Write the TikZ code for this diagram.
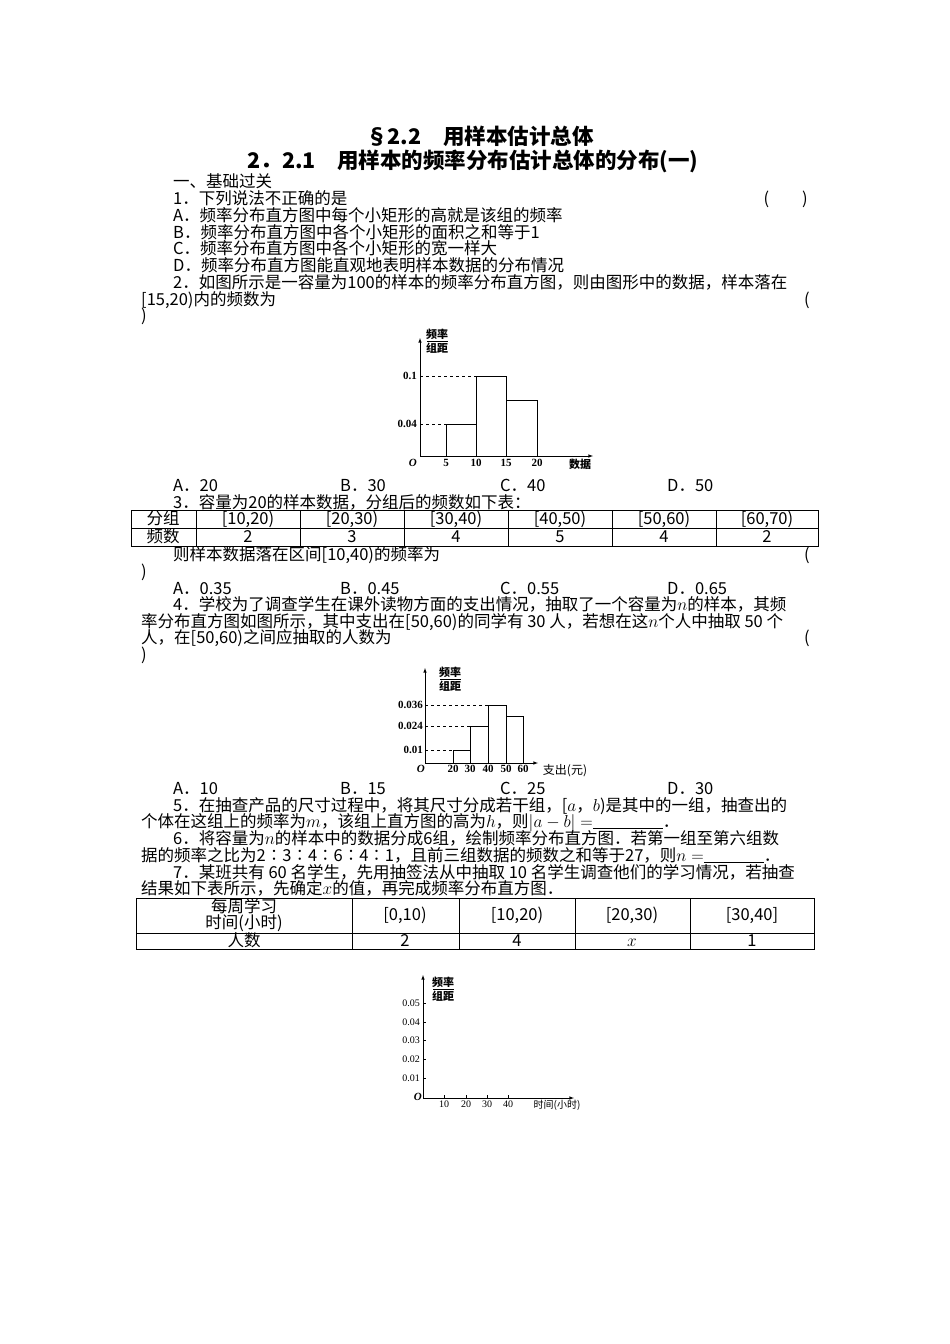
\documentclass[tikz,border=0pt]{standalone}
\usepackage{fontspec}
\setmainfont{Noto Sans CJK SC}
\newfontfamily\numf{Liberation Serif}
\begin{document}
\begin{tikzpicture}[x=1pt,y=-1pt,
  tx/.style={anchor=base west,inner sep=0pt,font=\fontsize{16.5}{17}\selectfont},
  tr/.style={anchor=base east,inner sep=0pt,font=\fontsize{16.5}{17}\selectfont},
  tc/.style={anchor=base,inner sep=0pt,font=\fontsize{16.5}{17}\selectfont},
  ax/.style={-latex,line width=0.6pt},
  bar/.style={draw,line width=0.6pt},
  dsh/.style={dashed,line width=0.5pt},
  cl/.style={inner sep=0pt,font=\numf\bfseries\fontsize{11}{12}\selectfont},
  cjkl/.style={inner sep=0pt,font=\bfseries\fontsize{11}{12}\selectfont},
  tbl/.style={line width=0.6pt}]
\useasboundingbox[fill=white] (0,0) rectangle (950,1344);
% titles
\node[anchor=base,inner sep=0pt,font=\bfseries\fontsize{21.5}{22}\selectfont] (t1) at (480,144) {§2.2\quad 用样本估计总体};
\node[anchor=base,inner sep=0pt,font=\bfseries\fontsize{21.5}{22}\selectfont] (t2) at (473,168) {2．2.1\quad 用样本的频率分布估计总体的分布(一)};
\node[tx] (s1) at (173,187) {一、基础过关};
\node[tx] (q1) at (173,204) {1．下列说法不正确的是};
\node[tr] (q1p) at (808,204) {(\qquad )};
\node[tx] (q1a) at (173,221) {A．频率分布直方图中每个小矩形的高就是该组的频率};
\node[tx] (q1b) at (173,238) {B．频率分布直方图中各个小矩形的面积之和等于1};
\node[tx] (q1c) at (173,254) {C．频率分布直方图中各个小矩形的宽一样大};
\node[tx] (q1d) at (173,271) {D．频率分布直方图能直观地表明样本数据的分布情况};
\node[tx] (q2) at (173,288) {2．如图所示是一容量为100的样本的频率分布直方图，则由图形中的数据，样本落在};
\node[tx] (q2b) at (141,305) {[15,20)内的频数为};
\node[tr] (q2p) at (810,305) {(};
\node[tx] (q2q) at (141,321) {)};
% chart 1
\coordinate (o1) at (420,456);
\draw[ax] (o1) -- (593,456);
\draw[ax] (o1) -- (420,338);
\draw[bar] (446,456) rectangle (476,424);
\draw[bar] (476,456) rectangle (506,376);
\draw[bar] (506,456) rectangle (537,400);
\draw[dsh] (420,424) -- (446,424);
\draw[dsh] (420,376) -- (476,376);
\node[cl,anchor=east] (l004) at (417,424) {0.04};
\node[cl,anchor=east] (l01) at (417,376) {0.1};
\node[cl,anchor=north east,font=\numf\bfseries\itshape\fontsize{11}{12}\selectfont] (O1) at (417,459) {O};
\foreach \v/\x in {5/446,10/476,15/506,20/537} \node[cl,anchor=north] at (\x,459) {\v};
\node[cjkl,anchor=north] (d1) at (580,459) {数据};
\node[cjkl,anchor=south] (f1) at (437,340) {频率};
\draw[line width=0.5pt] (427,341) -- (448,341);
\node[cjkl,anchor=north] (g1) at (437,343) {组距};
\node[tx] (a2) at (173,491) {A．20};
\node[tx] (b2) at (340,491) {B．30};
\node[tx] (c2) at (500,491) {C．40};
\node[tx] (d2) at (667,491) {D．50};
\node[tx] (q3) at (173,508) {3．容量为20的样本数据，分组后的频数如下表：};
% table 1
\draw[tbl] (131,510) rectangle (818,546);
\draw[tbl] (131,528) -- (818,528);
\foreach \x in {196,300,404,508,612,716} \draw[tbl] (\x,510) -- (\x,546);
\foreach \t/\x in {分组/163,{[10,20)}/248,{[20,30)}/352,{[30,40)}/456,{[40,50)}/560,{[50,60)}/664,{[60,70)}/767} \node[tc] at (\x,524) {\t};
\foreach \t/\x in {频数/163,2/248,3/352,4/456,5/560,4/664,2/767} \node[tc] at (\x,542) {\t};
\node[tx] (q3b) at (173,560) {则样本数据落在区间[10,40)的频率为};
\node[tr] (q3p) at (810,560) {(};
\node[tx] (q3q) at (141,577) {)};
\node[tx] (a3) at (173,594) {A．0.35};
\node[tx] (b3) at (340,594) {B．0.45};
\node[tx] (c3) at (500,594) {C．0.55};
\node[tx] (d3) at (667,594) {D．0.65};
\node[tx] (q4) at (173,610) {4．学校为了调查学生在课外读物方面的支出情况，抽取了一个容量为$n$的样本，其频};
\node[tx] (q4b) at (141,627) {率分布直方图如图所示，其中支出在[50,60)的同学有 30 人，若想在这$n$个人中抽取 50 个};
\node[tx] (q4c) at (141,643) {人，在[50,60)之间应抽取的人数为};
\node[tr] (q4p) at (810,643) {(};
\node[tx] (q4q) at (141,660) {)};
% chart 2
\coordinate (o2) at (425,763);
\draw[ax] (o2) -- (538,763);
\draw[ax] (o2) -- (425,668);
\draw[bar] (453,763) rectangle (470,750);
\draw[bar] (470,763) rectangle (488,726);
\draw[bar] (488,763) rectangle (506,705);
\draw[bar] (506,763) rectangle (523,716);
\draw[dsh] (425,750) -- (453,750);
\draw[dsh] (425,726) -- (470,726);
\draw[dsh] (425,705) -- (488,705);
\node[cl,anchor=east] at (423,750) {0.01};
\node[cl,anchor=east] at (423,726) {0.024};
\node[cl,anchor=east] at (423,705) {0.036};
\node[cl,anchor=north east,font=\numf\bfseries\itshape\fontsize{11}{12}\selectfont] (O2) at (425,765) {O};
\foreach \v/\x in {20/453,30/470,40/488,50/506,60/523} \node[cl,anchor=north] at (\x,765) {\v};
\node[cjkl,anchor=north,font=\fontsize{12}{12}\selectfont] (d4) at (565,764) {支出(元)};
\node[cjkl,anchor=south] (f2) at (450,678) {频率};
\draw[line width=0.5pt] (440,679) -- (461,679);
\node[cjkl,anchor=north] (g2) at (450,681) {组距};
\node[tx] (a4) at (173,794) {A．10};
\node[tx] (b4) at (340,794) {B．15};
\node[tx] (c4) at (500,794) {C．25};
\node[tx] (d4o) at (667,794) {D．30};
\node[tx] (q5) at (173,811) {5．在抽查产品的尺寸过程中，将其尺寸分成若干组，[$a$，$b$)是其中的一组，抽查出的};
\node[tx] (q5b) at (141,827) {个体在这组上的频率为$m$，该组上直方图的高为$h$，则$|a-b|=$\underline{\hspace{70pt}}．};
\node[tx] (q6) at (173,844) {6．将容量为$n$的样本中的数据分成6组，绘制频率分布直方图．若第一组至第六组数};
\node[tx] (q6b) at (141,861) {据的频率之比为2∶3∶4∶6∶4∶1，且前三组数据的频数之和等于27，则$n=$\underline{\hspace{60pt}}．};
\node[tx] (q7) at (173,878) {7．某班共有 60 名学生，先用抽签法从中抽取 10 名学生调查他们的学习情况，若抽查};
\node[tx] (q7b) at (141,894) {结果如下表所示，先确定$x$的值，再完成频率分布直方图．};
% table 2
\draw[tbl] (136,898) rectangle (814,949);
\draw[tbl] (136,933) -- (814,933);
\foreach \x in {352,459,575,690} \draw[tbl] (\x,898) -- (\x,949);
\node[tc] at (244,912) {每周学习};
\node[tc] at (244,928) {时间(小时)};
\foreach \t/\x in {{[0,10)}/405,{[10,20)}/517,{[20,30)}/632,{[30,40]}/752} \node[tc] at (\x,920) {\t};
\foreach \t/\x in {人数/244,2/405,4/517,$x$/632,1/752} \node[tc] at (\x,946) {\t};
% chart 3
\coordinate (o3) at (423,1098);
\draw[ax] (o3) -- (574,1098);
\draw[ax] (o3) -- (423,975);
\foreach \v/\y in {0.05/1003,0.04/1022,0.03/1040,0.02/1059,0.01/1078} {\draw[line width=0.5pt] (423,\y) -- (426,\y); \node[cl,anchor=east,font=\numf\fontsize{10}{12}\selectfont] at (420,\y) {\v};}
\foreach \v/\x in {10/444,20/466,30/487,40/508} {\draw[line width=0.5pt] (\x,1098) -- (\x,1095); \node[cl,anchor=north,font=\numf\fontsize{10}{12}\selectfont] at (\x,1101) {\v};}
\node[cl,anchor=north east,font=\numf\bfseries\itshape\fontsize{11}{12}\selectfont] (O3) at (422,1093) {O};
\node[cjkl,anchor=north,font=\fontsize{10}{12}\selectfont] (d5) at (557,1100) {时间(小时)};
\node[cjkl,anchor=south] (f3) at (443,988) {频率};
\draw[line width=0.5pt] (433,989) -- (454,989);
\node[cjkl,anchor=north] (g3) at (443,991) {组距};
\end{tikzpicture}
\end{document}
